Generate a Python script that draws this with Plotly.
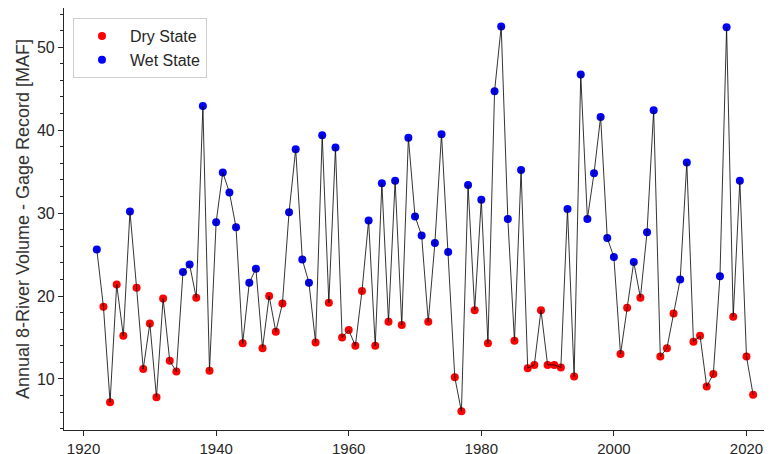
import plotly.graph_objects as go

years = list(range(1922, 2022))
volume = [25.6, 18.7, 7.2, 21.4, 15.2, 30.2, 21.0, 11.2, 16.7, 7.8,
          19.7, 12.2, 10.9, 22.9, 23.8, 19.8, 42.9, 11.0, 28.9, 34.9,
          32.5, 28.3, 14.3, 21.6, 23.3, 13.7, 20.0, 15.7, 19.1, 30.1,
          37.7, 24.4, 21.6, 14.4, 39.4, 19.2, 37.9, 15.0, 15.9, 14.0,
          20.6, 29.1, 14.0, 33.6, 16.9, 33.9, 16.5, 39.1, 29.6, 27.3,
          16.9, 26.4, 39.5, 25.3, 10.2, 6.1, 33.4, 18.3, 31.6, 14.3,
          44.7, 52.5, 29.3, 14.6, 35.2, 11.3, 11.7, 18.3, 11.7, 11.7,
          11.4, 30.5, 10.3, 46.7, 29.3, 34.8, 41.6, 27.0, 24.7, 13.0,
          18.6, 24.1, 19.8, 27.7, 42.4, 12.7, 13.7, 17.9, 22.0, 36.1,
          14.5, 15.2, 9.1, 10.6, 22.4, 52.4, 17.5, 33.9, 12.7, 8.1]
state = ["W", "D", "D", "D", "D", "W", "D", "D", "D", "D",
         "D", "D", "D", "W", "W", "D", "W", "D", "W", "W",
         "W", "W", "D", "W", "W", "D", "D", "D", "D", "W",
         "W", "W", "W", "D", "W", "D", "W", "D", "D", "D",
         "D", "W", "D", "W", "D", "W", "D", "W", "W", "W",
         "D", "W", "W", "W", "D", "D", "W", "D", "W", "D",
         "W", "W", "W", "D", "W", "D", "D", "D", "D", "D",
         "D", "W", "D", "W", "W", "W", "W", "W", "W", "D",
         "D", "W", "D", "W", "W", "D", "D", "D", "W", "W",
         "D", "D", "D", "D", "W", "W", "D", "W", "D", "D"]
x_ticks = [1920, 1940, 1960, 1980, 2000, 2020]
y_ticks = [10, 20, 30, 40, 50]

dry_x = [y for y, s in zip(years, state) if s == "D"]
dry_v = [v for v, s in zip(volume, state) if s == "D"]
wet_x = [y for y, s in zip(years, state) if s == "W"]
wet_v = [v for v, s in zip(volume, state) if s == "W"]

FONT = "Liberation Sans, Arial, sans-serif"
AX = "#262626"

fig = go.Figure()
fig.add_trace(go.Scatter(x=dry_x, y=dry_v, mode="markers", name="Dry State",
                         marker=dict(color="red", size=8, line=dict(width=0))))
fig.add_trace(go.Scatter(x=wet_x, y=wet_v, mode="markers", name="Wet State",
                         marker=dict(color="blue", size=8, line=dict(width=0))))
fig.add_trace(go.Scatter(x=years, y=volume, mode="lines", showlegend=False,
                         line=dict(color="black", width=0.8)))

# page body has an 8px default margin, so the figure is sized to fit the window
fig.update_layout(
    width=764, height=446,
    margin=dict(l=56, r=0, t=0, b=24, autoexpand=False),
    paper_bgcolor="white", plot_bgcolor="white",
    font=dict(family=FONT, color=AX, size=15),
    legend=dict(x=0.0127, y=0.976, xanchor="left", yanchor="top",
                bgcolor="white", bordercolor="#d0d0d0", borderwidth=1,
                font=dict(size=16, color=AX), itemwidth=46,
                tracegroupgap=0),
    xaxis=dict(range=[1917.05, 2023.85], tickvals=x_ticks, showgrid=False,
               automargin=False,
               zeroline=False, showline=True, linecolor=AX, linewidth=1.2,
               ticks="outside", ticklen=5, tickcolor=AX, tickwidth=1.2,
               tickfont=dict(size=15, color=AX)),
    yaxis=dict(range=[3.85, 54.73], tickvals=y_ticks, showgrid=False,
               automargin=False,
               zeroline=False, showline=True, linecolor=AX, linewidth=1.2,
               ticks="outside", ticklen=5, tickcolor=AX, tickwidth=1.2,
               tickfont=dict(size=16, color=AX),
               minor=dict(dtick=2, tick0=0, ticks="outside", ticklen=3,
                          tickcolor=AX, tickwidth=1, showgrid=False),
               title=dict(text="Annual 8-River Volume - Gage Record [MAF]",
                          font=dict(size=18, color="#333333"), standoff=2)),
)

fig.write_html("out.html")
